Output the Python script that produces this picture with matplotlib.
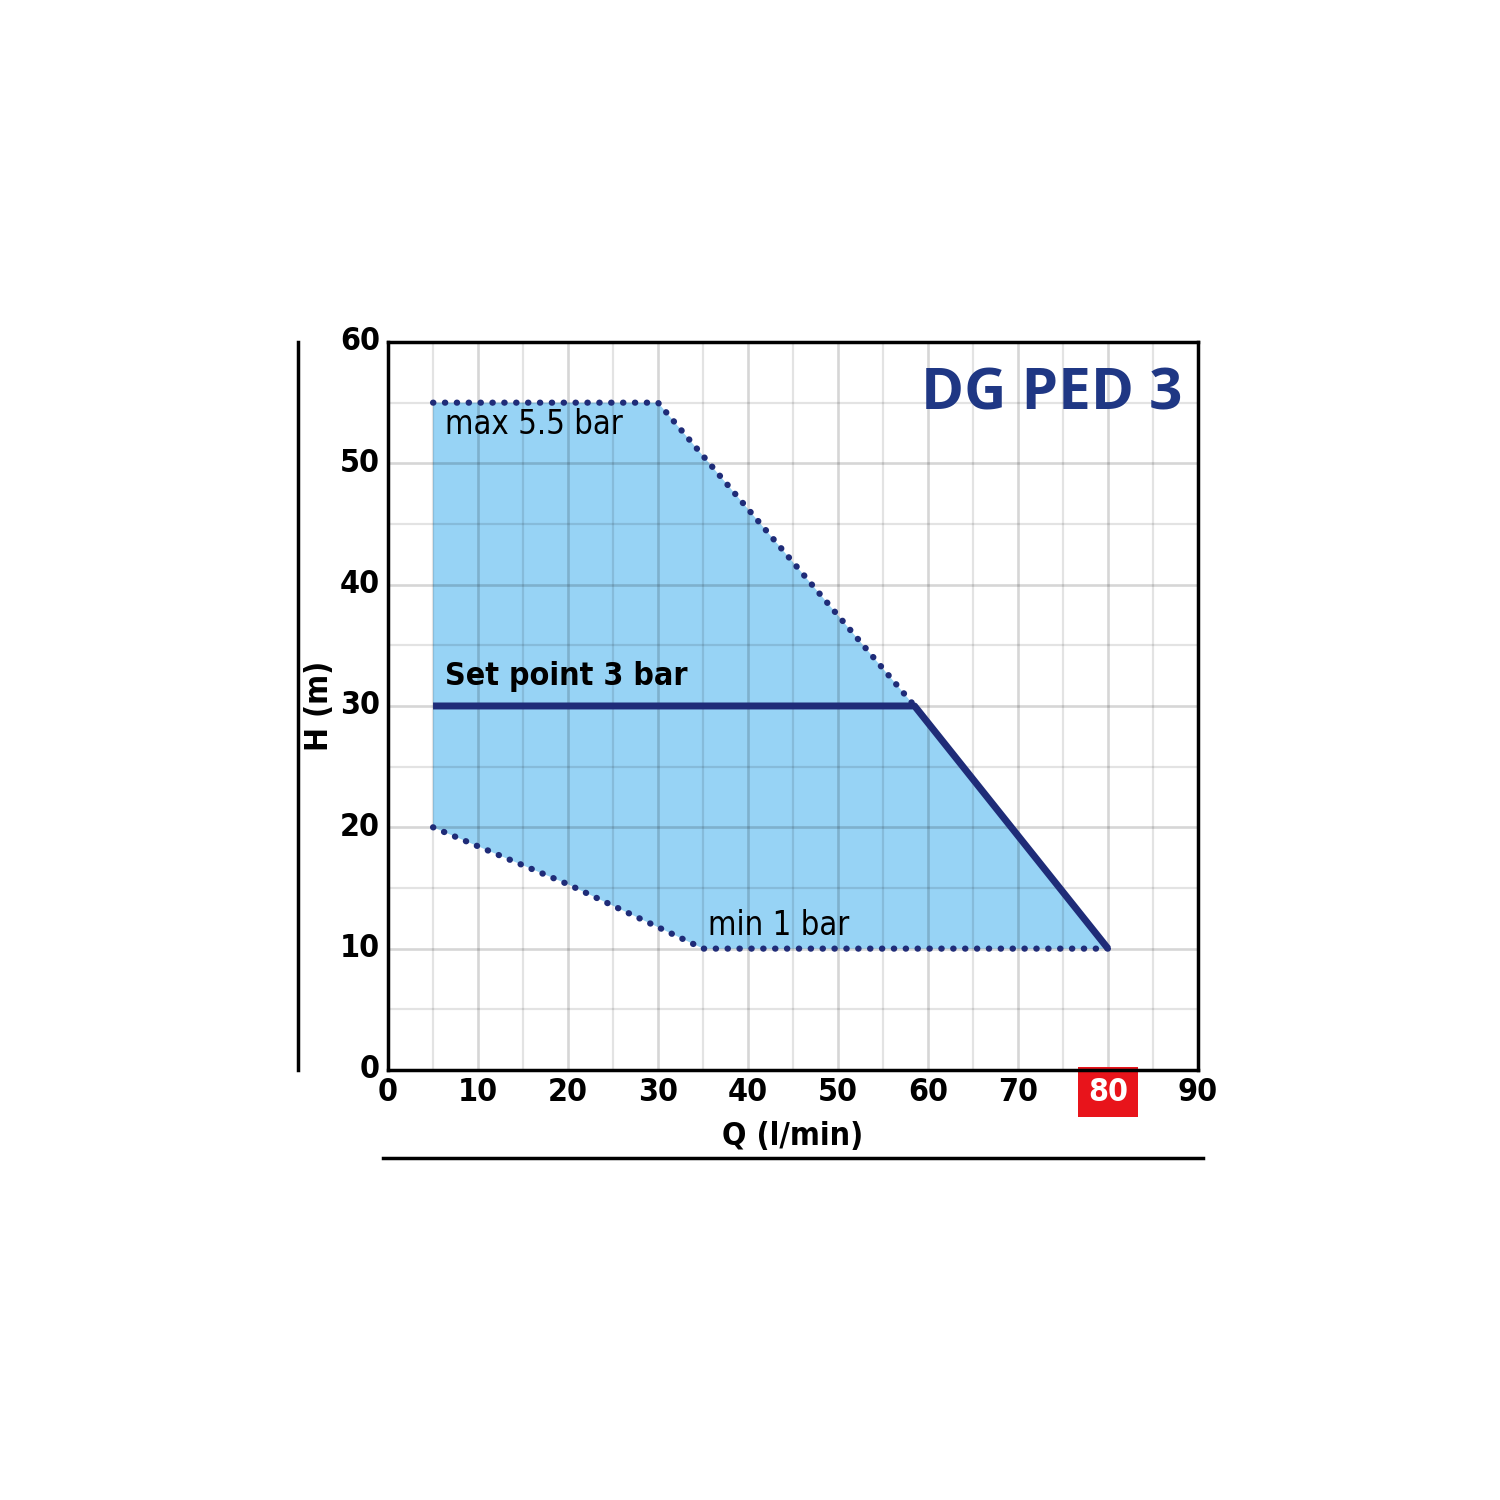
import matplotlib
matplotlib.use("Agg")
import matplotlib.pyplot as plt
from matplotlib.patches import Polygon

# operating envelope (Q in l/min, H in m)
env_q = [5, 30, 58.5, 80, 35, 20, 5]
env_h = [55, 55, 30, 10, 10, 15.3, 20]

# boundary lines
max_q = [5, 30, 58.5]
max_h = [55, 55, 30]
min_q = [5, 20, 35, 80]
min_h = [20, 15.3, 10, 10]
set_q = [5, 58.5, 80]
set_h = [30, 30, 10]

x_ticks = [0, 10, 20, 30, 40, 50, 60, 70, 80, 90]
y_ticks = [0, 10, 20, 30, 40, 50, 60]

navy = "#1f2c78"
fill = "#97d3f5"
cond = dict(family="DejaVu Sans", stretch="condensed")

fig = plt.figure(figsize=(15, 15), dpi=100)
ax = fig.add_axes([0.2587, 0.2867, 0.54, 0.4853])
ax.set_xlim(0, 90)
ax.set_ylim(0, 60)

# grid: semi-transparent black so it darkens the blue fill too
def grid_style(v):
    if v % 10 == 0:
        return dict(color="black", lw=1.9, alpha=0.16, zorder=3)
    return dict(color="black", lw=1.6, alpha=0.11, zorder=3)

for v in range(5, 90, 5):
    ax.axvline(v, **grid_style(v))
for v in range(5, 60, 5):
    ax.axhline(v, **grid_style(v))

ax.add_patch(Polygon(list(zip(env_q, env_h)), closed=True, facecolor=fill, edgecolor="none", zorder=1))

dot = dict(color=navy, lw=4.5, linestyle=(0, (0.05, 1.85)), dash_capstyle="round", zorder=5)
ax.plot(max_q, max_h, **dot)
ax.plot(min_q, min_h, **dot)
ax.plot(set_q, set_h, color=navy, lw=5, solid_capstyle="butt", zorder=6)

for s in ax.spines.values():
    s.set_linewidth(2.5)
    s.set_zorder(7)

ax.set_xticks([])
ax.set_yticks([])
for v in x_ticks:
    if v == 80:
        ax.text(v, -1.85, str(v), ha="center", va="center", fontsize=23, fontweight="bold",
                color="white", clip_on=False,
                bbox=dict(boxstyle="square,pad=0.3", fc="#e8141b", ec="none"), **cond)
    else:
        ax.text(v, -1.85, str(v), ha="center", va="center", fontsize=23, fontweight="bold",
                color="black", clip_on=False, **cond)
for v in y_ticks:
    ax.text(-0.9, v, str(v), ha="right", va="center", fontsize=23, fontweight="bold",
            color="black", **cond)

ax.text(0.5, -0.092, "Q (l/min)", transform=ax.transAxes, ha="center", va="center",
        fontsize=23, fontweight="bold", **cond)
ax.text(-0.085, 0.5, "H (m)", transform=ax.transAxes, ha="center", va="center",
        rotation=90, fontsize=23, fontweight="bold", **cond)

ax.text(6.3, 53.2, "max 5.5 bar", ha="left", va="center", fontsize=23.5, zorder=8, **cond)
ax.text(6.3, 32.4, "Set point 3 bar", ha="left", va="center", fontsize=23, fontweight="bold",
        zorder=8, **cond)
ax.text(35.5, 11.9, "min 1 bar", ha="left", va="center", fontsize=23.5, zorder=8, **cond)
ax.text(88.3, 55.7, "DG PED 3", ha="right", va="center", fontsize=42, fontweight="bold",
        family=["Open Sans", "DejaVu Sans"], color="#1f3784", zorder=8)

# decorative frame lines
fig.add_artist(plt.Line2D([0.1987, 0.1987], [0.2867, 0.772], color="black", lw=2.5))
fig.add_artist(plt.Line2D([0.2553, 0.802], [0.228, 0.228], color="black", lw=2.5))

fig.savefig("out.png", dpi=100, facecolor="white")
